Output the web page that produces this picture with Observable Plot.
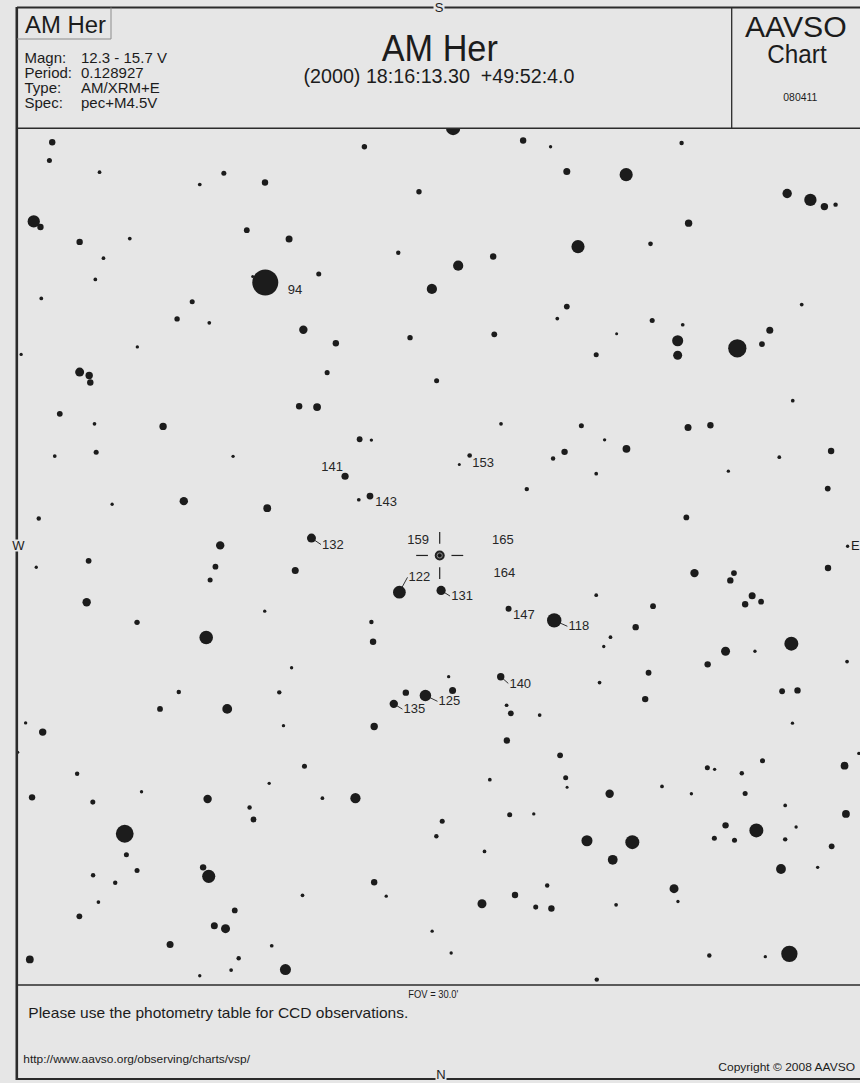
<!DOCTYPE html>
<html><head><meta charset="utf-8">
<script src="https://cdn.jsdelivr.net/npm/d3@7"></script>
<script src="https://cdn.jsdelivr.net/npm/@observablehq/plot@0.6"></script>
<style>
html,body{margin:0;padding:0;background:#e6e6e6;}
#chart svg{display:block}
</style></head><body><div id="chart"></div>
<script>
// ---- chart data ----
const variable = {name: "AM Her", ra: 0, dec: 0};
const fovArcmin = 30.0;
const titleCoords = "(2000) 18:16:13.30  +49:52:4.0";
const chartId = "080411";
const infoKeys = ["Magn:", "Period:", "Type:", "Spec:"];
const infoValues = ["12.3 - 15.7 V", "0.128927", "AM/XRM+E", "pec+M4.5V"];
const compass = ["S", "N", "W", "E"];
const footNote = "Please use the photometry table for CCD observations.";
const footUrl = "http://www.aavso.org/observing/charts/vsp/";
const footCopy = "Copyright \u00A9 2008 AAVSO";

// stars: [RA offset east (arcmin), Dec offset north (arcmin), magnitude]
const stars = [
[-13.84,-14.76,14.5],[-13.94,-14.11,15.15],[-12.15,-13.69,15.7],[-7.71,-13.65,15.15],
[-8.57,-13.25,15.7],[-6.24,-13.32,14.5],[-2.69,-14.60,15.0],[-0.74,-12.99,15.0],
[-14.50,-11.93,12.3],[-14.26,-11.73,14.5],[-12.86,-11.20,14.5],[-11.07,-11.32,15.7],
[-6.89,-11.62,14.8],[-5.38,-11.30,14.2],[-12.01,-10.62,15.7],[-1.48,-10.81,15.4],
[-4.32,-10.05,15.15],[-12.30,-9.86,15.7],[-6.23,-9.75,9.4],[-6.68,-9.96,16.0],
[-0.28,-9.52,12.8],[-14.23,-9.18,15.7],[-8.84,-9.06,15.15],[-9.38,-8.45,15.0],
[-8.23,-8.31,15.7],[-4.87,-8.06,13.5],[-3.71,-7.58,14.5],[-1.06,-7.78,15.0],
[-10.80,-7.45,15.85],[-14.95,-7.18,15.85],[-4.02,-6.53,15.15],[-12.86,-6.55,13.2],
[-12.52,-6.43,14.0],[-12.48,-6.18,14.5],[-13.57,-5.06,14.8],[-12.33,-4.70,15.7],
[-9.88,-4.61,14.0],[-5.02,-5.33,14.5],[-4.38,-5.30,13.8],[-2.86,-4.15,14.8],
[-2.44,-4.12,15.85],[0.48,-15.27,11.8],[2.98,-14.82,14.5],[3.96,-14.60,15.85],
[8.64,-14.73,15.4],[4.54,-13.71,14.2],[6.66,-13.60,12.1],[12.41,-12.93,13.0],
[13.24,-12.70,12.3],[13.74,-12.46,14.0],[14.14,-12.53,15.4],[8.89,-11.87,14.0],
[4.94,-11.03,12.1],[7.53,-11.13,15.3],[1.91,-10.68,14.5],[0.66,-10.35,12.8],
[4.54,-8.89,14.8],[12.93,-8.96,15.7],[4.20,-8.46,15.7],[7.59,-8.39,15.15],
[8.68,-8.24,15.7],[6.32,-7.92,16.0],[1.95,-7.90,14.8],[11.79,-8.04,14.2],
[8.50,-7.67,12.6],[10.63,-7.40,11.0],[11.51,-7.55,14.8],[8.50,-7.15,13.2],
[5.59,-7.17,15.15],[-0.11,-6.24,15.15],[12.61,-5.53,15.7],[2.19,-4.70,15.7],
[5.06,-4.63,15.15],[8.87,-4.57,14.2],[9.67,-4.65,14.5],[5.89,-4.13,15.85],
[-13.75,-3.55,15.7],[-12.27,-3.69,15.15],[-7.38,-3.54,15.85],[-3.38,-2.83,14.1],
[-9.14,-1.94,13.5],[-11.70,-1.83,15.85],[-6.16,-1.69,13.8],[-2.89,-1.99,15.7],
[-2.49,-2.12,14.3],[-14.32,-1.32,15.4],[-4.58,-0.62,13.2],[-7.84,-0.36,13.5],
[-12.54,0.19,14.8],[-14.41,0.42,15.85],[-8.01,0.40,14.8],[-5.16,0.54,14.2],
[-8.20,0.88,15.15],[-1.44,1.31,12.2],[-12.61,1.67,13.5],[-6.25,1.99,15.85],
[-10.81,2.39,15.0],[-2.44,2.38,15.4],[-8.34,2.93,12.0],[-2.38,3.08,14.5],
[-5.29,4.01,15.85],[-9.32,4.88,15.4],[-5.73,4.89,15.4],[-1.21,4.90,14.5],
[-0.51,5.00,12.5],[-9.99,5.48,14.8],[-7.59,5.48,12.9],[-1.64,5.30,13.5],
[-14.79,5.98,15.85],[-14.18,6.31,14.0],[-5.58,6.08,15.85],[-2.34,6.11,14.0],
[1.07,-3.57,15.3],[0.70,-3.25,16.0],[4.05,-3.46,15.4],[4.46,-3.70,14.5],
[6.67,-3.81,13.8],[5.59,-2.92,15.7],[12.13,-3.51,15.7],[13.98,-3.73,14.5],
[10.31,-3.01,15.85],[13.86,-2.39,14.8],[3.11,-2.37,15.4],[8.81,-1.36,14.8],
[14.57,-0.33,15.85],[13.87,0.45,14.5],[9.10,0.63,13.5],[10.51,0.63,14.8],
[10.38,0.89,14.5],[11.16,1.44,14.2],[11.48,1.65,14.8],[10.91,1.74,14.5],
[5.59,1.42,15.7],[7.62,1.81,14.8],[0.05,1.25,13.1],[2.46,1.90,14.7],
[4.09,2.32,11.8],[7.00,2.56,14.5],[6.10,2.92,15.7],[5.86,3.25,15.85],
[12.56,3.15,11.9],[10.21,3.42,13.2],[11.26,3.42,15.85],[9.57,3.89,14.5],
[14.55,3.79,15.7],[7.46,4.19,14.8],[0.32,4.33,15.85],[2.18,4.33,14.0],
[5.71,4.54,15.7],[0.46,4.82,14.2],[12.23,4.85,14.8],[12.78,4.82,14.5],
[7.34,5.13,14.5],[2.39,5.35,15.7],[2.54,5.64,14.8],[3.57,5.70,15.7],
[12.60,5.99,15.85],[2.40,6.61,14.5],[-15.07,7.03,16.0],[-12.95,7.80,15.4],
[-4.83,7.53,15.15],[-6.09,8.14,15.85],[-10.65,8.44,15.85],[-14.56,8.64,14.5],
[-12.39,8.81,15.15],[-8.29,8.70,13.5],[-6.79,9.00,15.4],[-4.19,8.67,15.7],
[-3.01,8.67,12.8],[-6.65,9.43,14.8],[-11.25,9.94,11.1],[-11.19,10.69,15.15],
[-10.81,11.25,15.15],[-12.38,11.42,15.4],[-11.59,11.69,15.4],[-8.45,11.14,14.5],
[-8.25,11.46,12.1],[-2.34,11.67,14.5],[-12.19,12.38,15.7],[-4.90,12.14,15.7],
[-1.91,12.17,15.85],[-12.87,12.89,14.8],[-7.32,12.68,14.8],[-8.05,13.23,14.2],
[-7.65,13.33,13.2],[-9.63,13.90,14.2],[-6.00,13.94,15.7],[-14.64,14.43,13.8],
[-7.18,14.39,15.4],[-7.45,14.81,15.7],[-8.57,15.01,15.85],[-5.51,14.79,12.6],
[4.30,7.14,14.8],[11.53,7.33,15.15],[14.46,7.51,13.8],[9.56,7.58,15.15],
[9.82,7.64,15.85],[10.79,7.78,15.4],[1.79,8.01,15.7],[4.50,7.94,15.15],
[4.55,8.28,16.0],[7.94,8.25,15.7],[6.07,8.51,13.5],[8.99,8.51,15.85],
[10.91,8.50,15.15],[12.34,8.93,15.7],[2.50,9.26,15.15],[3.36,9.23,15.85],
[14.51,9.23,13.8],[0.09,9.49,15.15],[-0.12,10.03,15.4],[10.21,9.64,14.5],
[11.31,9.82,11.9],[12.73,9.70,15.85],[5.26,10.19,12.6],[6.88,10.24,11.9],
[9.81,10.10,15.15],[10.53,10.17,15.15],[12.34,10.14,15.4],[14.00,10.39,14.8],
[1.60,10.57,15.7],[6.18,10.87,12.9],[12.19,11.20,12.9],[13.50,11.14,15.85],
[8.37,11.90,13.2],[8.51,12.36,15.85],[3.84,11.79,15.4],[2.69,12.13,14.5],
[1.51,12.44,13.2],[3.43,12.56,15.15],[3.99,12.61,14.5],[6.30,12.48,15.7],
[-0.27,13.42,15.85],[0.41,14.20,15.85],[9.63,14.29,15.4],[11.63,14.33,15.85],
[12.49,14.23,11.4],[5.61,15.15,15.4],[14.97,7.07,15.85]
];

// comparison-star labels (magnitude x10) and the anchor of each label
const labelText = ["94","141","143","132","159","165","164","122","131","153","147","118","140","125","135"];
const labelRa   = [-5.43,-4.23,-2.30,-4.20,-1.16,1.87,1.92,-1.11,0.41,1.16,2.62,4.60,2.49,-0.04,-1.29];
const labelDec  = [-9.50,-3.18,-1.90,-0.39,-0.57,-0.57,0.62,0.78,1.45,-3.31,2.12,2.53,4.57,5.21,5.49];
const leaderLabels = ["132","122","131","118","140","125","135"];

// ---- build tables ----
const starData = stars.map(([ra, dec, mag]) => ({ra, dec, mag}));
const labels = labelText.map((t, i) => ({t, ra: labelRa[i], dec: labelDec[i]}));
const leaders = labels.filter(d => leaderLabels.includes(d.t)).map(d => {
  const m = +d.t / 10;
  const cands = starData.filter(s => Math.abs(s.mag - m) < 1e-3);
  const s = d3.least(cands, s => (s.ra - d.ra) ** 2 + (s.dec - d.dec) ** 2);
  return {x1: s.ra, y1: s.dec, x2: d.ra - 0.04, y2: d.dec};
});
const tickIn = 0.42, tickOut = 0.84;
const varTicks = [[0,-1],[0,1],[1,0],[-1,0]].map(([a,b]) => ({
  x1: variable.ra + a * tickIn, y1: variable.dec + b * tickIn,
  x2: variable.ra + a * tickOut, y2: variable.dec + b * tickOut
}));

const FONT = "'Liberation Sans', Arial, Helvetica, sans-serif";
const INK = "#1c1c1c";

const plot = Plot.plot({
  width: 860, height: 1083,
  marginLeft: 17, marginRight: 0, marginTop: 128, marginBottom: 98,
  x: {domain: [-15.08, 15.03], axis: null},
  y: {domain: [-15.25, 15.36], reverse: true, axis: null},
  r: {type: "linear", domain: [16, 15, 14, 13, 11.8, 9.4], range: [1.5, 2.7, 3.7, 4.7, 7.2, 13], clamp: true},
  style: {background: "none", fontFamily: FONT},
  marks: [
    Plot.link(leaders, {x1: "x1", y1: "y1", x2: "x2", y2: "y2", stroke: "#333", strokeWidth: 1}),
    Plot.dot(starData, {x: "ra", y: "dec", r: "mag", fill: INK, clip: true}),
    Plot.text(labels, {x: "ra", y: "dec", text: "t", textAnchor: "start", fontSize: 13, fill: "#262626"}),
    Plot.link(varTicks, {x1: "x1", y1: "y1", x2: "x2", y2: "y2", stroke: "#222", strokeWidth: 1.2}),
    Plot.dot([variable], {x: "ra", y: "dec", r: 5, fill: "#222"}),
    Plot.dot([variable], {x: "ra", y: "dec", r: 2.6, fill: "none", stroke: "#8a8a8a", strokeWidth: 1}),
    Plot.dot([variable], {x: "ra", y: "dec", r: 1.2, fill: "#111"})
  ]
});
document.getElementById("chart").append(plot);

// ---- chart frame, header and footer ----
const svg = d3.select(plot);
const deco = svg.append("g").attr("font-family", FONT).attr("fill", INK);
function line(x1, y1, x2, y2, w = 1.6, c = "#2b2b2b") {
  deco.append("line").attr("x1", x1).attr("y1", y1).attr("x2", x2).attr("y2", y2)
    .attr("stroke", c).attr("stroke-width", w);
}
function text(s, x, y, size, anchor = "start", len = null) {
  const t = deco.append("text").attr("x", x).attr("y", y).attr("font-size", size)
    .attr("text-anchor", anchor).text(s);
  if (len) t.attr("textLength", len).attr("lengthAdjust", "spacingAndGlyphs");
  return t;
}
line(17, 7.5, 860, 7.5, 2);
line(17, 128.3, 860, 128.3, 1.6);
line(17, 985, 860, 985, 1.6);
line(17, 1079, 860, 1079, 2);
line(16.8, 7, 16.8, 1080, 2.6);
line(731.7, 7.5, 731.7, 128.3, 1.3);
line(111, 7.5, 111, 39, 1, "#8c8c8c");
line(17, 39, 111, 39, 1, "#8c8c8c");

text(variable.name, 25, 33, 23, "start", 81);
infoKeys.forEach((k, i) => {
  text(k, 24.5, 63.3 + i * 15, 15);
  text(infoValues[i], 81, 63.3 + i * 15, 15);
});
text(variable.name, 439.8, 61, 37, "middle", 116);
text(titleCoords, 439, 83.3, 20, "middle", 271);
text("AAVSO", 795.8, 36.7, 30, "middle", 101.7);
text("Chart", 797, 63.3, 25.5, "middle", 59.3);
text(chartId, 800.3, 101, 10.8, "middle", 34);

text(`FOV = ${fovArcmin.toFixed(1)}'`, 408.3, 998, 11, "start", 50);
text(footNote, 28.3, 1017.7, 14.5, "start", 380);
text(footUrl, 23.3, 1063.3, 10, "start", 226.7);
text(footCopy, 718.3, 1070.7, 10.5, "start", 136.7);

// compass letters sitting on the frame
const compassPos = {S: [439, 7, "middle"], N: [441, 1074.5, "middle"], W: [18.3, 545.5, "middle"], E: [851, 545.5, "start"]};
compass.forEach(c => {
  const [x, y, a] = compassPos[c];
  const w = 11, h = 12;
  const rx = a === "middle" ? x - w / 2 : x - 1;
  deco.append("rect").attr("x", rx).attr("y", y - h / 2).attr("width", w).attr("height", h).attr("fill", "#e6e6e6");
  text(c, x, y + 4.6, 13, a);
});
</script>
</body></html>
